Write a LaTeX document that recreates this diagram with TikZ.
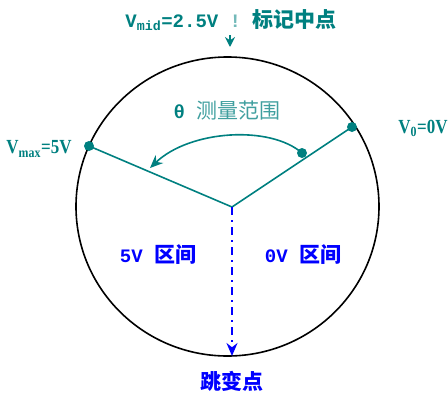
\documentclass[tikz,border=0pt]{standalone}
\usepackage{fontspec}
\setmainfont{Liberation Mono}
\newfontfamily\cjk{Noto Sans CJK SC}
\newfontfamily\estrecha[FakeStretch=0.85]{Liberation Serif}
\newcommand\chino[1]{{\cjk\fontsize{21}{21}\selectfont #1}}
\usetikzlibrary{arrows.meta}
\begin{document}
\begin{tikzpicture}[x=1pt, y=-1pt,
    radio/.style={teal, line width=1.6pt},
    flecha/.style={-{Stealth[length=13pt, width=11pt]}},
    texto/.style={inner sep=0pt, font=\bfseries\fontsize{19}{19}\selectfont}]
\useasboundingbox (0,0) rectangle (448,394);

% Circunferencia
\draw[line width=1.6pt] (227.5,206.5) ellipse (151.5pt and 149.5pt);

% Radios
\coordinate (O) at (232,207);
\coordinate (vmax) at (89,146);
\coordinate (vcero) at (352,127);
\draw[radio] (vmax) -- (O) -- (vcero);
\fill[teal] (vmax) circle (5pt) (vcero) circle (5pt);

% Arco de medida
\coordinate (ini) at (302,153);
\coordinate (fin) at (150,168);
\fill[teal] (ini) circle (5pt);
\draw[radio, flecha] (ini) .. controls (270,125) and (190,130) .. (fin);

% Punto de salto
\coordinate (salto) at (232,356);
\draw[blue, line width=1.6pt, dash pattern=on 8pt off 5pt on 2pt off 5pt, flecha] (O) -- (salto);

% Etiquetas
\node[texto, text=teal] (mid) at (231,20) {V\textsubscript{mid}=2.5V {\color{teal!55}!} \chino{标记中点}};
\coordinate (marca) at (230,47);
\draw[radio, -{Stealth[length=10pt, width=10pt]}, shorten <=4pt] (mid.south -| marca) -- (marca);

\node[texto, text=teal, font=\estrecha\bfseries\fontsize{20}{20}\selectfont] (lmax) at (39,149) {V\textsubscript{max}=5V};
\node[texto, text=teal, font=\estrecha\bfseries\fontsize{20}{20}\selectfont] (lcero) at (423,128) {V\textsubscript{0}=0V};
\node[inner sep=0pt, text=teal] (theta) at (227,111) {\bfseries\fontsize{19}{19}\selectfont θ {\mdseries\color{teal!75}\chino{测量范围}}};
\node[texto, text=blue] (izq) at (158,255) {5V \chino{区间}};
\node[texto, text=blue] (der) at (303,255) {0V \chino{区间}};
\node[texto, text=blue] (lsalto) at (232,381) {\chino{跳变点}};
\end{tikzpicture}
\end{document}
